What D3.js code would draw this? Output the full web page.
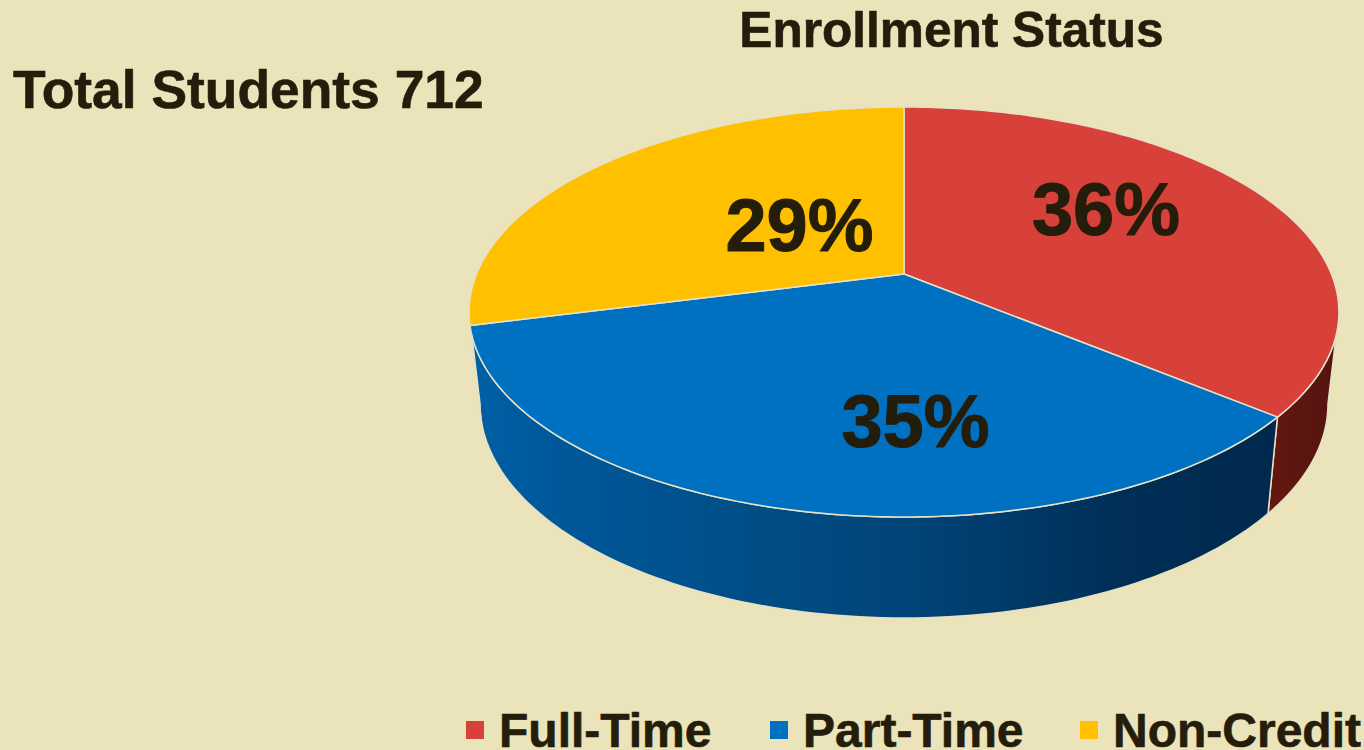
<!DOCTYPE html>
<html><head><meta charset="utf-8"><script src="https://cdn.jsdelivr.net/npm/d3@7"></script>
<style>html,body{margin:0;padding:0;background:#ebe3b9;overflow:hidden}svg{display:block}text{font-family:"Liberation Sans",Arial,sans-serif;font-weight:700;fill:#241d0b;stroke:#241d0b;stroke-linejoin:round}</style></head>
<body><svg width="1364" height="750"></svg>
<script>
const categories=["Full-Time","Part-Time","Non-Credit"];
const values=[36,35,29];
const labels=["36%","35%","29%"];
const colors=["#d8403a","#0070c0","#ffc000"];
const title="Enrollment Status";
const subtitle="Total Students 712";
const svg=d3.select("svg");
// perspective projection of a unit circle onto the top and bottom rims of the disc
const cx=904, persp=-0.1854;
const rimTop={a:147.15,b:274,A:427.4}, rimBot={a:139.1,b:364.3,A:416.6};
const project=(rim,ang)=>{const u=Math.sin(ang),v=-Math.cos(ang),w=1+persp*v;return [cx+rim.A*u/w,(rim.a*v+rim.b)/w];};
const arcPts=(rim,a0,a1,n=100)=>d3.range(n+1).map(i=>project(rim,a0+(a1-a0)*i/n));
const pie=d3.pie().sort(null).value(d=>d)(values);
const wallMin=100.7*Math.PI/180, wallMax=259.3*Math.PI/180;
const defs=svg.append("defs");
function wallGrad(id,x0,x1,stops){const g=defs.append("linearGradient").attr("id",id).attr("gradientUnits","userSpaceOnUse").attr("x1",x0).attr("x2",x1).attr("y1",0).attr("y2",0);
 stops.forEach(s=>g.append("stop").attr("offset",s[0]).attr("stop-color",s[1]));}
wallGrad("w0",1268,1339,[[0,"#64180f"],[1,"#521410"]]);
wallGrad("w1",470,1278,[[0,"#0060a6"],[0.1,"#00589a"],[0.3,"#00508a"],[0.55,"#004478"],[0.8,"#002f57"],[1,"#00294c"]]);
const stroke="#e6e2c8";
pie.forEach((d,i)=>{
 const a0=Math.max(d.startAngle,wallMin),a1=Math.min(d.endAngle,wallMax);
 if(a1<=a0)return;
 const pts=arcPts(rimTop,a0,a1).concat(arcPts(rimBot,a0,a1).reverse());
 svg.append("path").attr("d",d3.line()(pts)+"Z").attr("fill",`url(#w${i})`).attr("stroke",stroke).attr("stroke-width",1.5);
});
pie.forEach((d,i)=>{
 const pts=[[cx,rimTop.b]].concat(arcPts(rimTop,d.startAngle,d.endAngle,140));
 svg.append("path").attr("d",d3.line()(pts)+"Z").attr("fill",colors[i]).attr("stroke",stroke).attr("stroke-width",1.5).attr("stroke-linejoin","round");
});
const pos=[[1106,235],[915.5,447],[799.5,251]];
labels.forEach((l,i)=>svg.append("text").attr("x",pos[i][0]).attr("y",pos[i][1]).attr("text-anchor","middle").attr("font-size",74).attr("stroke-width",1).text(l));
svg.append("text").attr("x",951.5).attr("y",46.5).attr("text-anchor","middle").attr("font-size",49.6).attr("stroke-width",0.6).text(title);
svg.append("text").attr("x",13).attr("y",108).attr("font-size",53.4).attr("stroke-width",0.6).text(subtitle);
const lx=[466,770,1080],tx=[499,803,1113];
categories.forEach((c,i)=>{
 svg.append("rect").attr("x",lx[i]).attr("y",721).attr("width",18).attr("height",18).attr("fill",colors[i]);
 svg.append("text").attr("x",tx[i]).attr("y",746.5).attr("font-size",48).attr("stroke-width",0.6).text(c);
});
</script></body></html>
